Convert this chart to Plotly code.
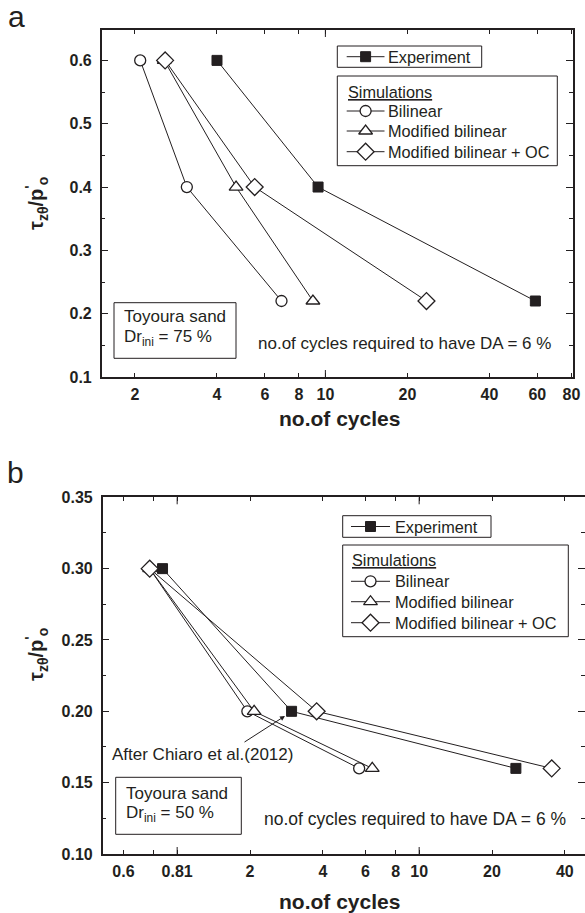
import math
import plotly.graph_objects as go

W, H = 585, 913
INK = "#231f20"
FONT = "Liberation Sans, Arial, sans-serif"

# ---------------- data ----------------
series_names = ["Experiment", "Bilinear", "Modified bilinear", "Modified bilinear + OC"]

# panel a : Dr_ini = 75 %
ratio_a = [0.6, 0.4, 0.22]
exp_a = [4.0, 9.4, 59.0]
bil_a = [2.09, 3.1, 6.9]
mod_a = [2.56, 4.7, 9.0]
modoc_a = [2.58, 5.5, 23.5]

# panel b : Dr_ini = 50 %
ratio_b = [0.30, 0.20, 0.16]
exp_b = [0.87, 2.97, 25.1]
bil_b = [0.77, 1.95, 5.65]
mod_b = [0.77, 2.08, 6.4]
modoc_b = [0.77, 3.77, 35.3]

# ticks
xticks_a = [2, 4, 6, 8, 10, 20, 40, 60, 80]
xticklabels_a = ["2", "4", "6", "8", "10", "20", "40", "60", "80"]
yticks_a = [0.1, 0.2, 0.3, 0.4, 0.5, 0.6]
yticklabels_a = ["0.1", "0.2", "0.3", "0.4", "0.5", "0.6"]
yminor_a = [0.15, 0.25, 0.35, 0.45, 0.55, 0.65]

xticks_b = [0.6, 0.8, 1, 2, 4, 6, 8, 10, 20, 40]
xticklabels_b = ["0.6", "", "0.81", "2", "4", "6", "8", "10", "20", "40"]
yticks_b = [0.10, 0.15, 0.20, 0.25, 0.30, 0.35]
yticklabels_b = ["0.10", "0.15", "0.20", "0.25", "0.30", "0.35"]
yminor_b = [0.125, 0.175, 0.225, 0.275, 0.325]

# ---------------- styles ----------------
styles = {
    "Experiment": dict(symbol="square", size=10, color=INK, line=dict(color=INK, width=1)),
    "Bilinear": dict(symbol="circle", size=11, color="white", line=dict(color=INK, width=1.3)),
    "Modified bilinear": dict(symbol="triangle-up", size=12, color="white", line=dict(color=INK, width=1.3)),
    "Modified bilinear + OC": dict(symbol="diamond", size=13, color="white", line=dict(color=INK, width=1.3)),
}

fig = go.Figure()

panel_a = [exp_a, bil_a, mod_a, modoc_a]
panel_b = [exp_b, bil_b, mod_b, modoc_b]
for name, xs in zip(series_names, panel_a):
    fig.add_trace(go.Scatter(x=xs, y=ratio_a, mode="lines+markers", name=name,
                             line=dict(color=INK, width=1), marker=styles[name],
                             xaxis="x", yaxis="y", showlegend=False))
for name, xs in zip(series_names, panel_b):
    fig.add_trace(go.Scatter(x=xs, y=ratio_b, mode="lines+markers", name=name,
                             line=dict(color=INK, width=1), marker=styles[name],
                             xaxis="x2", yaxis="y2", showlegend=False))

# ---------------- layout helpers (pixel overlay axes) ----------------
shapes = []
annotations = []


def ptext(x, y, text, size=17, xanchor="left", yanchor="middle", bold=False, angle=0):
    annotations.append(dict(x=x, y=y, xref="x3", yref="y3", text=text, showarrow=False,
                            xanchor=xanchor, yanchor=yanchor, textangle=angle, borderpad=0,
                            font=dict(family=FONT, size=size, color=INK,
                                      weight="bold" if bold else "normal")))


def prect(x0, y0, x1, y1, fill="rgba(0,0,0,0)"):
    shapes.append(dict(type="rect", xref="x3", yref="y3", x0=x0, y0=y0, x1=x1, y1=y1,
                       line=dict(color=INK, width=1), fillcolor=fill, layer="above"))


def legend_row(xl0, xl1, y, name, tx, size):
    xm = (xl0 + xl1) / 2
    fig.add_trace(go.Scatter(x=[xl0, xl1], y=[y, y], mode="lines", line=dict(color=INK, width=1),
                             xaxis="x3", yaxis="y3", showlegend=False, hoverinfo="skip"))
    fig.add_trace(go.Scatter(x=[xm], y=[y], mode="markers", marker=styles[name],
                             xaxis="x3", yaxis="y3", showlegend=False, hoverinfo="skip"))
    ptext(tx, y, name, size=size)


LEG = 16.3
# legends panel a
prect(337.3, 46, 481.7, 67.3)
legend_row(346.7, 384.5, 56.7, "Experiment", 387.3, LEG)
prect(337.3, 76, 557.3, 165.7)
ptext(346.7, 91.7, "<u>Simulations</u>", size=LEG)
for yy, nm in zip([111, 131, 151.7], series_names[1:]):
    legend_row(346.7, 384.5, yy, nm, 387.3, LEG)

# legends panel b
prect(342.7, 515.7, 491, 537.3)
legend_row(351, 390, 526.5, "Experiment", 394, LEG)
prect(342.7, 545, 568.3, 636.7)
ptext(351, 560, "<u>Simulations</u>", size=LEG)
for yy, nm in zip([581.3, 601.7, 622.7], series_names[1:]):
    legend_row(351, 390, yy, nm, 394, LEG)

# Toyoura boxes
prect(114, 302.7, 236, 358.3, fill="white")
ptext(123.3, 316.7, "Toyoura sand", 17)
ptext(123.3, 338.3, "Dr<sub>ini</sub> = 75 %", 17)
prect(115.7, 777.3, 241.3, 834.3, fill="white")
ptext(125, 793.3, "Toyoura sand", 17)
ptext(125, 814.3, "Dr<sub>ini</sub> = 50 %", 17)

# notes
ptext(257, 343.3, "no.of cycles required to have DA = 6 %", 17)
ptext(263.3, 819.3, "no.of cycles required to have DA = 6 %", 17.5)
ptext(111, 754, "After Chiaro et al.(2012)", 17)
annotations.append(dict(x=285, y=716, xref="x3", yref="y3", ax=-42, ay=27, text="",
                        showarrow=True, arrowhead=2, arrowsize=1, arrowwidth=1, arrowcolor=INK))

# axis titles
ytitle = "<b>τ<sub>zθ</sub>/p<sup>'</sup><sub>o</sub></b>"
ptext(36, 204, ytitle, 20, xanchor="center", yanchor="middle", angle=-90)
ptext(36, 655, ytitle, 20, xanchor="center", yanchor="middle", angle=-90)
ptext(339.5, 418, "no.of cycles", 21, xanchor="center", bold=True)
ptext(339.5, 901, "no.of cycles", 21, xanchor="center", bold=True)

# panel letters
ptext(7, 16.5, "a", 30)
ptext(6, 472.5, "b", 30)

# long decade ticks (bottom & top) for log axes
for xv in [10]:
    for y0, y1 in [(0, 7 / 347), (1 - 7 / 347, 1)]:
        shapes.append(dict(type="line", xref="x", yref="y domain", x0=xv, x1=xv, y0=y0, y1=y1,
                           line=dict(color=INK, width=1)))
for xv in [1, 10]:
    for y0, y1 in [(0, 7 / 357), (1 - 7 / 357, 1)]:
        shapes.append(dict(type="line", xref="x2", yref="y2 domain", x0=xv, x1=xv, y0=y0, y1=y1,
                           line=dict(color=INK, width=1)))

tickfont = dict(family=FONT, size=16, color=INK, weight="bold")
common = dict(showline=True, linecolor=INK, linewidth=1.5, mirror="allticks", ticks="inside",
              tickcolor=INK, tickwidth=1, showgrid=False, zeroline=False, tickfont=tickfont,
              automargin=False, fixedrange=True)

fig.update_layout(
    width=W, height=H,
    margin=dict(l=0, r=0, t=0, b=0),
    paper_bgcolor="white", plot_bgcolor="rgba(0,0,0,0)",
    showlegend=False,
    xaxis=dict(type="log", range=[0.1788, 1.909], domain=[101.7 / W, 573 / W], anchor="y",
               tickmode="array", tickvals=xticks_a, ticktext=xticklabels_a, ticklen=4,
               ticklabelstandoff=2, **common),
    yaxis=dict(range=[0.1, 0.648], domain=[1 - 377 / H, 1 - 30 / H], anchor="x",
               tickmode="array", tickvals=yticks_a, ticktext=yticklabels_a, ticklen=7,
               ticklabelstandoff=5,
               minor=dict(tickmode="array", tickvals=yminor_a, ticks="inside", ticklen=4,
                          tickcolor=INK, tickwidth=1, showgrid=False),
               **common),
    xaxis2=dict(type="log", range=[-0.3077, 1.6853], domain=[102.7 / W, 1.0], anchor="y2",
                tickmode="array", tickvals=xticks_b, ticktext=xticklabels_b, ticklen=4,
                ticklabelstandoff=2, **common),
    yaxis2=dict(range=[0.1, 0.35], domain=[1 - 854 / H, 1 - 497.3 / H], anchor="x2",
                tickmode="array", tickvals=yticks_b, ticktext=yticklabels_b, ticklen=7,
                ticklabelstandoff=5,
                minor=dict(tickmode="array", tickvals=yminor_b, ticks="inside", ticklen=4,
                           tickcolor=INK, tickwidth=1, showgrid=False),
                **common),
    xaxis3=dict(domain=[0, 1], range=[0, W], visible=False, anchor="y3", fixedrange=True),
    yaxis3=dict(domain=[0, 1], range=[H, 0], visible=False, anchor="x3", fixedrange=True),
    shapes=shapes,
    annotations=annotations,
)

fig.write_html("out.html", config={"displayModeBar": False},
               post_script="document.body.style.margin='0';document.body.style.overflow='hidden';")
